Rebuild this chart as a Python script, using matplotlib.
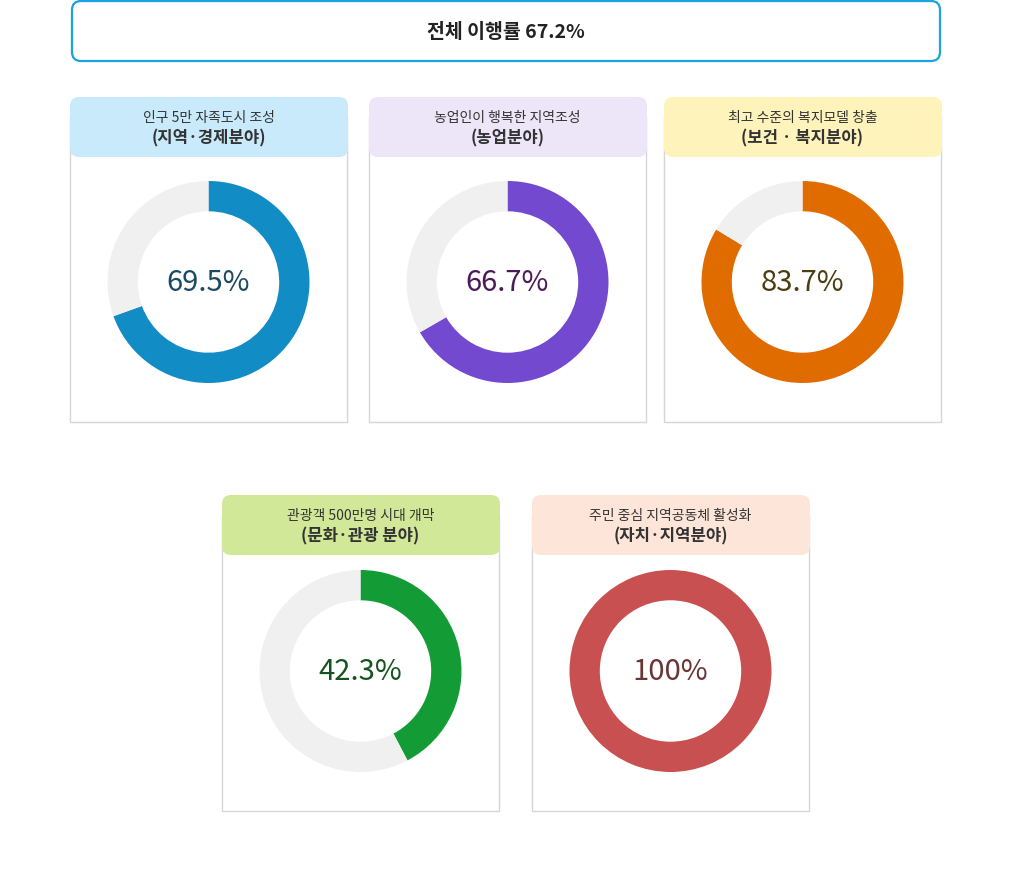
import matplotlib.pyplot as plt
from matplotlib.patches import FancyBboxPatch, Rectangle

plt.rcParams['font.family'] = ['Noto Sans CJK KR', 'DejaVu Sans']

# data
overall_rate = 67.2
titles = [
    '인구 5만 자족도시 조성',
    '농업인이 행복한 지역조성',
    '최고 수준의 복지모델 창출',
    '관광객 500만명 시대 개막',
    '주민 중심 지역공동체 활성화',
]
subtitles = [
    '(지역·경제분야)',
    '(농업분야)',
    '(보건 · 복지분야)',
    '(문화·관광 분야)',
    '(자치·지역분야)',
]
rates = [69.5, 66.7, 83.7, 42.3, 100]
rate_labels = ['69.5%', '66.7%', '83.7%', '42.3%', '100%']

header_colors = ['#c8eafa', '#ede6f9', '#fef3bb', '#d0e897', '#fee5d9']
ring_colors = ['#128cc5', '#7349cf', '#e06c00', '#139c35', '#c95050']
text_colors = ['#1d4a63', '#4b1a5a', '#4a3e0e', '#17531f', '#6b3535']

# card placement in pixels (left, top, height)
card_pos = [(70, 98, 325), (369, 98, 325), (664, 98, 325), (222, 496, 316), (532, 496, 316)]
card_w = 277
header_h = 60

W, H = 1012, 878
fig = plt.figure(figsize=(W / 100, H / 100), dpi=100)
bg = fig.add_axes([0, 0, 1, 1])
bg.set_xlim(0, W)
bg.set_ylim(H, 0)
bg.axis('off')

# overall box
bg.add_patch(FancyBboxPatch((72, 2), 868, 60, boxstyle='round,pad=0,rounding_size=9',
                            fc='white', ec='#1aa3e0', lw=1.6))
bg.text(506, 32, f'전체 이행률 {overall_rate}%', ha='center', va='center',
        fontsize=14, fontweight='bold', color='#222222')

for i in range(len(rates)):
    x0, y0, card_h = card_pos[i]
    cx = x0 + card_w / 2
    bg.add_patch(Rectangle((x0 + 0.5, y0 + 20), card_w, card_h - 20,
                           fc='white', ec='#d6d6d6', lw=1))
    bg.add_patch(FancyBboxPatch((x0, y0), card_w + 1, header_h,
                                boxstyle='round,pad=0,rounding_size=9',
                                fc=header_colors[i], ec='none'))
    bg.text(cx, y0 + 20, titles[i], ha='center', va='center',
            fontsize=10, color='#333333')
    bg.text(cx, y0 + 40, subtitles[i], ha='center', va='center',
            fontsize=12, fontweight='bold', color='#333333')

    # donut
    r = 101
    cy = y0 + card_h - 140
    ax = fig.add_axes([(cx - r) / W, 1 - (cy + r) / H, 2 * r / W, 2 * r / H])
    ax.pie([rates[i], 100 - rates[i]], colors=[ring_colors[i], '#f0f0f0'],
           startangle=90, counterclock=False, radius=1,
           wedgeprops=dict(width=0.3, linewidth=0))
    ax.set_xlim(-1, 1)
    ax.set_ylim(-1, 1)
    ax.set_aspect('equal')
    ax.axis('off')
    ax.text(0, 0, rate_labels[i], ha='center', va='center',
            fontsize=21, color=text_colors[i])

fig.savefig('out.png', dpi=100)
